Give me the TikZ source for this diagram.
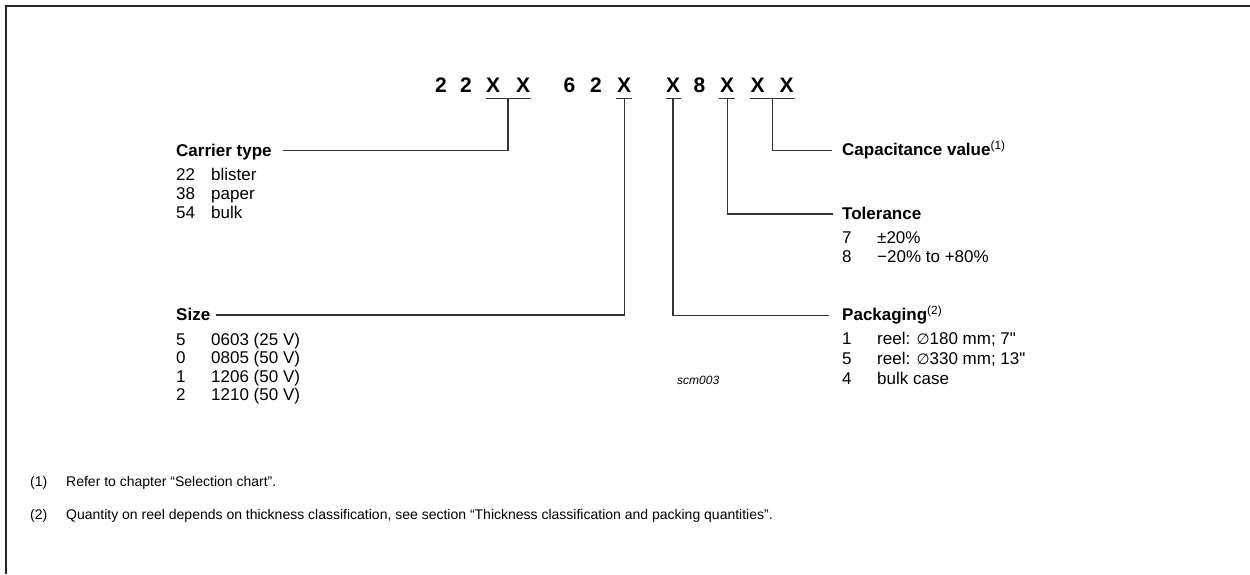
\documentclass[tikz,border=0pt]{standalone}
\usepackage{fontspec}
\setmainfont{Liberation Sans}
\newfontfamily\dejavu{DejaVu Sans}
\newfontfamily\nomap[Ligatures=TeXOff]{Liberation Sans}
\newcommand\straightdq{{\nomap\symbol{"22}}}
\begin{document}
\begin{tikzpicture}[x=1pt,y=-1pt,
  code/.style={font=\fontsize{21}{21}\bfseries, anchor=base, inner sep=0pt},
  head/.style={font=\fontsize{17}{17}\bfseries, anchor=base west, inner sep=0pt},
  body/.style={font=\fontsize{17}{17}\selectfont, anchor=base west, inner sep=0pt},
  foot/.style={font=\fontsize{14}{14}\selectfont, anchor=base west, inner sep=0pt},
  wire/.style={line width=1.1pt, black!80},
  frame/.style={line width=2pt, black!85}]
\useasboundingbox (0,0) rectangle (1250,574);
\draw[frame] (6.2,574) -- (6.2,6.2) -- (1250,6.2);

% code characters
\node[code] (c1) at (441,92) {2};
\node[code] (c2) at (466,92) {2};
\node[code] (c3) at (493,92) {X};
\node[code] (c4) at (523,92) {X};
\node[code] (c5) at (569.5,92) {6};
\node[code] (c6) at (596,92) {2};
\node[code] (c7) at (624,92) {X};
\node[code] (c8) at (673,92) {X};
\node[code] (c9) at (699.5,92) {8};
\node[code] (c10) at (727,92) {X};
\node[code] (c11) at (757.5,92) {X};
\node[code] (c12) at (786.5,92) {X};

% underlines and their stems
\coordinate (u1a) at (486,98.3); \coordinate (u1b) at (531,98.3); \coordinate (s1) at (508,98.3);
\coordinate (u2a) at (616,98.3); \coordinate (u2b) at (632,98.3); \coordinate (s2) at (624.5,98.3);
\coordinate (u3a) at (665.5,98.3); \coordinate (u3b) at (681,98.3); \coordinate (s3) at (673,98.3);
\coordinate (u4a) at (719,98.3); \coordinate (u4b) at (735,98.3); \coordinate (s4) at (727.5,98.3);
\coordinate (u5a) at (750,98.3); \coordinate (u5b) at (795,98.3); \coordinate (s5) at (772.5,98.3);
\foreach \i in {1,...,5} {\draw[wire] (u\i a) -- (u\i b);}

% Carrier type
\node[head] (ct) at (176,156) {Carrier type};
\node[body] at (176,180) {22};
\node[body] at (211,180) {blister};
\node[body] at (176,199) {38};
\node[body] at (211,199) {paper};
\node[body] at (176,218) {54};
\node[body] at (211,218) {bulk};
\coordinate (ctl) at (283,150.7);
\draw[wire] (s1) |- (ctl);

% Size
\node[head] (sz) at (176,320) {Size};
\node[body] at (176,345) {5};   \node[body] at (211,345) {0603 (25 V)};
\node[body] at (176,363.5) {0}; \node[body] at (211,363.5) {0805 (50 V)};
\node[body] at (176,382) {1};   \node[body] at (211,382) {1206 (50 V)};
\node[body] at (176,400.5) {2}; \node[body] at (211,400.5) {1210 (50 V)};
\coordinate (szl) at (216,315);
\draw[wire] (s2) |- (szl);

% Capacitance value
\node[head] (cv) at (842,155.7) {Capacitance value\textsuperscript{\mdseries(1)}};
\coordinate (cvl) at (832,150.7);
\draw[wire] (s5) |- (cvl);

% Tolerance
\node[head] (tol) at (842,219) {Tolerance};
\node[body] at (842,243) {7};   \node[body] at (877,243) {±20\%};
\node[body] at (842,262.5) {8}; \node[body] at (877,262.5) {−20\% to +80\%};
\coordinate (toll) at (833,214);
\draw[wire] (s4) |- (toll);

% Packaging
\node[head] (pk) at (842,320.5) {Packaging\textsuperscript{\mdseries(2)}};
\node[body] at (842,344.5) {1}; \node[body] at (877,344.5) {reel: {\dejavu\fontsize{15}{15}\selectfont∅}180 mm; 7\straightdq};
\node[body] at (842,364) {5};   \node[body] at (877,364) {reel: {\dejavu\fontsize{15}{15}\selectfont∅}330 mm; 13\straightdq};
\node[body] at (842,384) {4};   \node[body] at (877,384) {bulk case};
\coordinate (pkl) at (829,315.7);
\draw[wire] (s3) |- (pkl);

\node[anchor=base west, inner sep=0pt, font=\fontsize{12}{12}\itshape] (scm) at (677,384) {scm003};

% footnotes
\node[foot] (f1n) at (30,486) {(1)};
\node[foot] (f1) at (66,486) {Refer to chapter “Selection chart”.};
\node[foot] (f2n) at (30,519) {(2)};
\node[foot] (f2) at (66,519) {Quantity on reel depends on thickness classification, see section “Thickness classification and packing quantities”.};
\end{tikzpicture}
\end{document}
